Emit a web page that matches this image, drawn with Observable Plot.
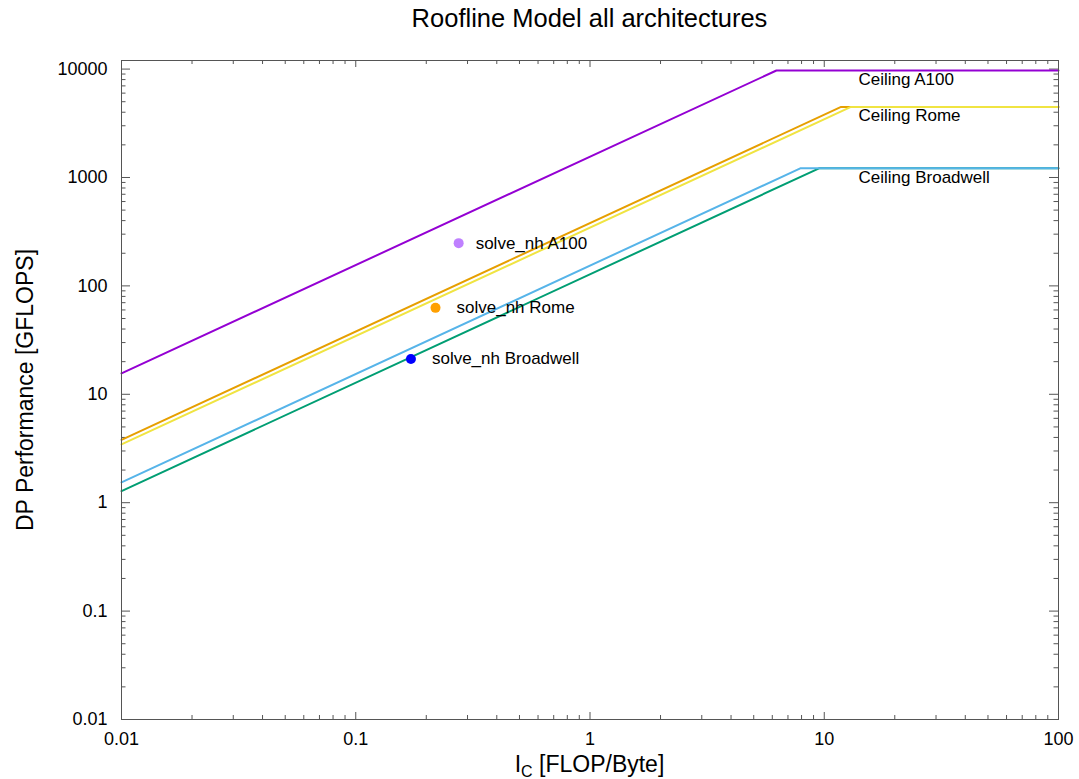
<!DOCTYPE html>
<html>
<head>
<meta charset="utf-8">
<script src="https://cdn.jsdelivr.net/npm/d3@7"></script>
<script src="https://cdn.jsdelivr.net/npm/@observablehq/plot@0.6"></script>
<style>
  body { margin: 0; background: #fff; font-family: "Liberation Sans", Arial, sans-serif; }
  #title { height: 40px; line-height: 37px; margin-left: 121px; width: 937px; text-align: center; font-size: 25.5px; color: #000; white-space: nowrap; }
  #chart svg { display: block; }
</style>
</head>
<body>
<div id="title">Roofline Model all architectures</div>
<div id="chart"></div>
<script>
// ---- Data ----
// Roofline curves (draw order)
const lineSeries   = ["A100", "Rome (a)", "Rome (b)", "Broadwell (b)", "Broadwell (a)"];
const lineStartPerf = [15.6, 3.8, 3.45, 1.28, 1.54];      // GFLOPS at I = 0.01
const lineRidge     = [6.25, 11.8, 13.0, 9.5, 7.9];       // FLOP/Byte where ceiling is reached
const lineCeiling   = [9700, 4480, 4480, 1215, 1215];     // GFLOPS
const lineColors    = ["#9400d3", "#e69f00", "#f0e442", "#009e73", "#56b4e9"];

// Ceiling labels
const ceilingLabels = ["Ceiling A100", "Ceiling Rome", "Ceiling Broadwell"];
const ceilingValues = [9700, 4480, 1215];

// Measured kernels
const kernelLabels    = ["solve_nh A100", "solve_nh Rome", "solve_nh Broadwell"];
const kernelIntensity = [0.275, 0.219, 0.172];
const kernelPerf      = [248, 62.7, 21.2];
const kernelColors    = ["#bf80ff", "#ffa000", "#0000ff"];

// Axes
const xDomain = [0.01, 100];
const yDomain = [0.01, 12000];
const xTickValues = [0.01, 0.1, 1, 10, 100];
const xTickLabels = ["0.01", "0.1", "1", "10", "100"];
const yTickValues = [0.01, 0.1, 1, 10, 100, 1000, 10000];
const yTickLabels = ["0.01", "0.1", "1", "10", "100", "1000", "10000"];
const titleText = "Roofline Model all architectures";
const yLabel = "DP Performance [GFLOPS]";

// ---- Layout ----
const W = 1079, H = 739;
const mL = 121, mR = 21, mT = 20, mB = 60;
const pw = W - mL - mR, ph = H - mT - mB;
const axisColor = "#555";

const xMinor = d3.scaleLog().domain(xDomain).ticks().filter(v => !xTickValues.includes(v));
const yMinor = d3.scaleLog().domain(yDomain).ticks().filter(v => !yTickValues.some(t => Math.abs(t - v) / t < 1e-9));

const xFmt = new Map(xTickValues.map((v, i) => [v, xTickLabels[i]]));
const yFmt = new Map(yTickValues.map((v, i) => [v, yTickLabels[i]]));

const lineMarks = lineSeries.map((s, i) => Plot.line(
  [
    {x: xDomain[0], y: lineStartPerf[i]},
    {x: lineRidge[i], y: lineCeiling[i]},
    {x: xDomain[1], y: lineCeiling[i]}
  ],
  {x: "x", y: "y", stroke: lineColors[i], strokeWidth: 2}
));

const kernels = kernelLabels.map((l, i) => ({label: l, x: kernelIntensity[i], y: kernelPerf[i], color: kernelColors[i]}));
const ceilings = ceilingLabels.map((l, i) => ({label: l, y: ceilingValues[i]}));

const chart = Plot.plot({
  width: W, height: H,
  marginLeft: mL, marginRight: mR, marginTop: mT, marginBottom: mB,
  style: {fontFamily: "Liberation Sans, Arial, sans-serif", background: "white", color: "#000"},
  x: {type: "log", domain: xDomain},
  y: {type: "log", domain: yDomain},
  marks: [
    // inward ticks, all four sides
    Plot.tickX(xTickValues, {x: d => d, insetTop: ph - 7, stroke: axisColor}),
    Plot.tickX(xTickValues, {x: d => d, insetBottom: ph - 7, stroke: axisColor}),
    Plot.tickX(xMinor, {x: d => d, insetTop: ph - 4, stroke: axisColor}),
    Plot.tickX(xMinor, {x: d => d, insetBottom: ph - 4, stroke: axisColor}),
    Plot.tickY(yTickValues, {y: d => d, insetRight: pw - 9, stroke: axisColor}),
    Plot.tickY(yTickValues, {y: d => d, insetLeft: pw - 9, stroke: axisColor}),
    Plot.tickY(yMinor, {y: d => d, insetRight: pw - 4.5, stroke: axisColor}),
    Plot.tickY(yMinor, {y: d => d, insetLeft: pw - 4.5, stroke: axisColor}),
    Plot.axisX(xTickValues, {tickSize: 0, tickPadding: 13, fontSize: 18, tickFormat: d => xFmt.get(d), label: null}),
    Plot.axisY(yTickValues, {tickSize: 0, tickPadding: 14, fontSize: 18, tickFormat: d => yFmt.get(d), label: null}),
    ...lineMarks,
    Plot.frame({stroke: axisColor}),
    Plot.text(ceilings, {x: () => 14, y: "y", text: "label", dy: 9, textAnchor: "start", fontSize: 17, fill: "#000"}),
    Plot.dot(kernels, {x: "x", y: "y", fill: "color", r: 5}),
    Plot.text(kernels.slice(0, 1), {x: "x", y: "y", text: "label", dx: 17, textAnchor: "start", fontSize: 17, fill: "#000"}),
    Plot.text(kernels.slice(1), {x: "x", y: "y", text: "label", dx: 21, textAnchor: "start", fontSize: 17, fill: "#000"}),
    Plot.text([yLabel], {frameAnchor: "left", text: d => d, dx: -96, rotate: -90, textAnchor: "middle", fontSize: 23, fill: "#000"})
  ]
});

// x-axis label with subscript
const svg = d3.select(chart);
const xl = svg.append("text")
  .attr("x", mL + pw / 2)
  .attr("y", 732)
  .attr("text-anchor", "middle")
  .attr("font-size", 23)
  .attr("fill", "#000");
xl.append("tspan").text("I");
xl.append("tspan").attr("font-size", 16).attr("dy", 5).text("C");
xl.append("tspan").attr("dy", -5).text(" [FLOP/Byte]");

document.getElementById("chart").appendChild(chart);
</script>
</body>
</html>
